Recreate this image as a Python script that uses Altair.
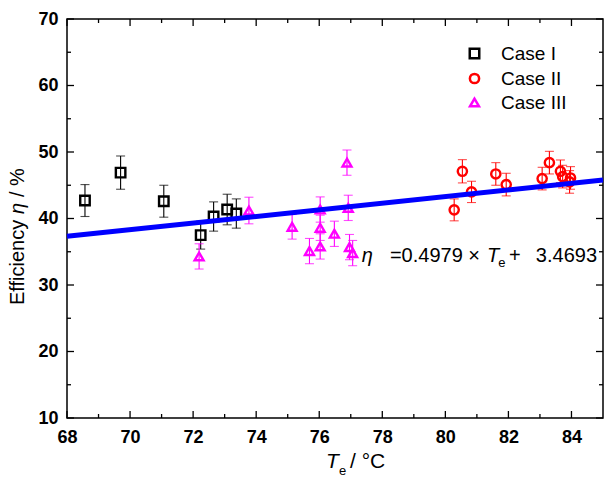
import altair as alt
import pandas as pd

# ---------------- data ----------------
cases = ["Case I", "Case II", "Case III"]

case1_te = [68.57, 69.70, 71.07, 72.24, 72.65, 73.08, 73.37]
case1_eff = [42.7, 46.9, 42.6, 37.5, 40.3, 41.35, 40.75]
case1_err = [2.4, 2.5, 2.4, 2.1, 2.2, 2.3, 2.2]

case2_te = [80.28, 80.54, 80.83, 81.60, 81.93, 83.07, 83.30, 83.65, 83.72, 83.97, 83.94]
case2_eff = [41.3, 47.1, 44.0, 46.7, 45.1, 46.0, 48.4, 47.1, 46.3, 46.1, 45.5]
case2_err = [1.65, 1.75, 1.6, 1.7, 1.7, 1.7, 1.7, 1.7, 1.7, 1.7, 1.7]

case3_te = [72.19, 73.77, 75.14, 75.69, 76.03, 76.03, 76.03, 76.48, 76.88, 76.92, 76.96, 77.06]
case3_eff = [34.3, 41.2, 38.75, 35.1, 35.8, 38.6, 41.35, 37.7, 48.4, 41.6, 35.7, 34.8]
case3_err = [1.9, 2.0, 1.85, 1.9, 1.9, 1.9, 1.9, 1.9, 1.9, 1.9, 1.9, 1.9]

fit_slope = 0.4979
fit_intercept = 3.4693
fit_te = [68, 85]

x_major = [68, 70, 72, 74, 76, 78, 80, 82, 84]
x_minor = [69, 71, 73, 75, 77, 79, 81, 83]
y_major = [10, 20, 30, 40, 50, 60, 70]
y_minor = [15, 25, 35, 45, 55, 65]

# ---------------- tables ----------------
rows = []
for name, te, eff, err in [("Case I", case1_te, case1_eff, case1_err),
                           ("Case II", case2_te, case2_eff, case2_err),
                           ("Case III", case3_te, case3_eff, case3_err)]:
    for t, e, s in zip(te, eff, err):
        rows.append({"case": name, "te": t, "eff": e, "lo": e - s, "hi": e + s})
df = pd.DataFrame(rows)
fit_df = pd.DataFrame({"te": fit_te, "eff": [fit_slope * t + fit_intercept for t in fit_te]})

W, H = 536, 399
FONT = "Liberation Sans"
colors = {"Case I": "#000000", "Case II": "#ff0000", "Case III": "#ff00ff"}

xs = alt.Scale(domain=[68, 85], nice=False, zero=False)
ys = alt.Scale(domain=[10, 70], nice=False, zero=False)

xaxis = alt.Axis(values=x_major, format="d", labelFont=FONT, labelFontSize=18,
                 labelFontWeight="bold", labelColor="black", ticks=False,
                 domain=False, grid=False, labelPadding=10, labelFlush=False, title=None)
yaxis = alt.Axis(values=y_major, format="d", labelFont=FONT, labelFontSize=18,
                 labelFontWeight="bold", labelColor="black", ticks=False,
                 domain=False, grid=False, labelPadding=9, labelFlush=False, title=None)


def X(field):
    return alt.X(field, scale=xs, axis=xaxis, title=None)


def Y(field):
    return alt.Y(field, scale=ys, axis=yaxis, title=None)


layers = []

# error bars (per case, fixed colour)
for name in cases:
    sub = df[df["case"] == name]
    base = alt.Chart(sub)
    layers.append(base.mark_rule(color=colors[name], strokeWidth=1.1).encode(
        x=X("te:Q"), y=Y("lo:Q"), y2="hi:Q"))
    for end in ["lo", "hi"]:
        layers.append(base.mark_tick(color=colors[name], orient="horizontal",
                                     size=9, thickness=1.1).encode(
            x=X("te:Q"), y=Y(f"{end}:Q")))

# markers with legend
points = alt.Chart(df).mark_point(filled=False, strokeWidth=2.4, opacity=1).encode(
    x=X("te:Q"),
    y=Y("eff:Q"),
    color=alt.Color("case:N", scale=alt.Scale(domain=cases, range=[colors[c] for c in cases]),
                    legend=alt.Legend(title=None, orient="none", legendX=398, legendY=25,
                                      labelFont=FONT, labelFontSize=19, labelColor="black",
                                      symbolStrokeWidth=2.5, symbolSize=60, rowPadding=4,
                                      labelOffset=17, padding=0)),
    shape=alt.Shape("case:N", scale=alt.Scale(domain=cases,
                                              range=["square", "circle", "triangle-up"])),
    size=alt.Size("case:N", scale=alt.Scale(domain=cases, range=[90, 80, 170]), legend=None),
)
layers.append(points)

# fitted line
layers.append(alt.Chart(fit_df).mark_line(color="#0000ff", strokeWidth=5).encode(
    x=X("te:Q"), y=Y("eff:Q")))


# inward ticks on all four sides
def xticks(vals, length):
    d = pd.DataFrame({"v": vals})
    out = []
    for y0, y1 in [(H, H - length), (0, length)]:
        out.append(alt.Chart(d).mark_rule(color="black", strokeWidth=1.3).encode(
            x=X("v:Q"), y=alt.value(y0), y2=alt.value(y1)))
    return out


def yticks(vals, length):
    d = pd.DataFrame({"v": vals})
    out = []
    for x0, x1 in [(0, length), (W, W - length)]:
        out.append(alt.Chart(d).mark_rule(color="black", strokeWidth=1.3).encode(
            y=Y("v:Q"), x=alt.value(x0), x2=alt.value(x1)))
    return out


layers += xticks(x_major, 7) + xticks(x_minor, 4) + yticks(y_major, 7) + yticks(y_minor, 4)

one = pd.DataFrame({"k": [0]})


def txt(text, x, y, size, style="normal", align="left", angle=0, baseline="alphabetic",
        data_coords=False):
    m = alt.Chart(one).mark_text(text=text, font=FONT, fontSize=size, fontStyle=style,
                                 align=align, baseline=baseline, angle=angle, color="black")
    if data_coords:
        return m.encode(x=X("xx:Q"), y=Y("yy:Q")).transform_calculate(xx=str(x), yy=str(y))
    return m.encode(x=alt.value(x), y=alt.value(y))


# equation annotation (data coordinates)
EQ_Y = 33.5
layers += [
    txt("η", 77.35, EQ_Y, 20, style="italic", data_coords=True),
    txt("=0.4979 ×", 81.10, EQ_Y, 20, align="right", data_coords=True),
    txt("T", 81.32, EQ_Y, 20, style="italic", data_coords=True),
    txt("e", 81.68, EQ_Y - 0.8, 13, data_coords=True),
    txt("+", 82.02, EQ_Y, 20, data_coords=True),
    txt("3.4693", 84.81, EQ_Y, 20, align="right", data_coords=True),
]

# axis titles as text pieces (pixel positions relative to plot area)
layers += [
    txt("T", 259, 449, 21, style="italic"),
    txt("e", 272, 456, 13),
    txt("/ °C", 283, 449, 21),
    txt("Efficiency", -49, 286, 20, angle=270, baseline="middle"),
    txt("η", -49, 195, 20, style="italic", angle=270, baseline="middle"),
    txt("/ %", -49, 178, 20, angle=270, baseline="middle"),
]

chart = alt.layer(*layers).properties(
    width=W, height=H,
    autosize=alt.AutoSizeParams(type="none"),
    padding={"left": 67, "top": 19, "right": 2, "bottom": 59},
    background="white",
).configure_view(stroke="black", strokeWidth=1.5)

chart.save("out.html", embed_options={"renderer": "svg", "actions": False})
